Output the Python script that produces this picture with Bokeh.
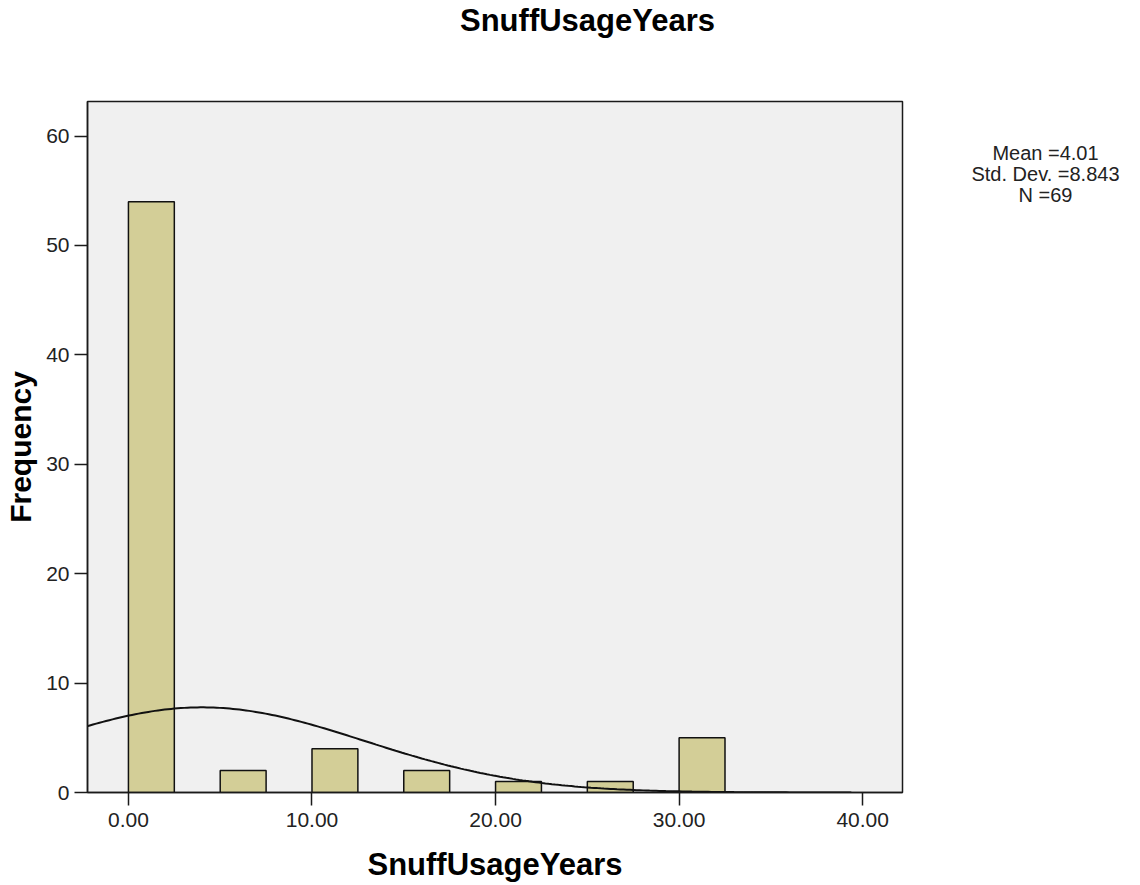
import numpy as np
from bokeh.plotting import figure
from bokeh.layouts import column, row
from bokeh.models import Range1d, FixedTicker, NumeralTickFormatter, ColumnDataSource
from bokeh.core.properties import value
from bokeh.embed import file_html
from bokeh.resources import INLINE

# ---- data ----
bin_left = [0, 5, 10, 15, 20, 25, 30]
bin_width = 2.5
counts = [54, 2, 4, 2, 1, 1, 5]
mean = 4.01
std_dev = 8.843
n_total = 69
x_ticks = [0, 10, 20, 30, 40]
y_ticks = [0, 10, 20, 30, 40, 50, 60]
title_text = "SnuffUsageYears"
x_label = "SnuffUsageYears"
y_label = "Frequency"
stats_lines = ["Mean =4.01", "Std. Dev. =8.843", "N =69"]

# ---- layout constants (pixels) ----
W, H = 1140, 885
T = 95                      # title strip height
BL, BR, BT, BB = 87, 8, 6, 93
MW = 910                    # main figure width
MH = H - T                  # main figure height
SW = W - MW                 # stats strip width
X0, X1 = -2.23, 42.17
Y0, Y1 = 0, 63.16
FRAME_TOP = T + BT          # page y of frame top
FRAME_BOT = H - BB          # page y of frame bottom

FONT = "Liberation Sans"

# ---- title strip ----
pt = figure(width=W, height=T, x_range=Range1d(0, W), y_range=Range1d(T, 0),
            x_axis_type=None, y_axis_type=None, output_backend="svg",
            toolbar_location=None, min_border=0)
pt.outline_line_color = None
pt.xgrid.visible = False
pt.ygrid.visible = False
pt.text(x=[587], y=[20], text=[title_text], text_align="center", text_baseline="middle",
        text_font=value(FONT), text_font_size="31px", text_font_style="bold",
        text_color="#000000")

# ---- main histogram ----
p = figure(width=MW, height=MH, x_range=Range1d(X0, X1), y_range=Range1d(Y0, Y1),
           output_backend="svg", toolbar_location=None,
           min_border_left=BL, min_border_right=BR, min_border_top=BT, min_border_bottom=BB)

p.background_fill_color = "#f0f0f0"
p.border_fill_color = "white"
p.outline_line_color = "#1a1a1a"
p.outline_line_width = 1.5
p.xgrid.visible = False
p.ygrid.visible = False

src = ColumnDataSource(dict(left=bin_left,
                            right=[b + bin_width for b in bin_left],
                            top=counts, bottom=[0] * len(counts)))
p.quad(left="left", right="right", top="top", bottom="bottom", source=src,
       fill_color="#d3ce97", line_color="#111111", line_width=1.5)

xs = np.linspace(mean - 4 * std_dev, mean + 4 * std_dev, 400)
ys = n_total * bin_width / (std_dev * np.sqrt(2 * np.pi)) * np.exp(-0.5 * ((xs - mean) / std_dev) ** 2)
p.line(xs, ys, line_color="#111111", line_width=2)

for ax in (p.xaxis[0], p.yaxis[0]):
    ax.axis_line_color = "#1a1a1a"
    ax.axis_line_width = 1.5
    ax.major_tick_line_color = "#1a1a1a"
    ax.major_tick_line_width = 1.5
    ax.major_tick_out = 13
    ax.major_tick_in = 0
    ax.minor_tick_line_color = None
    ax.major_label_text_font = FONT
    ax.major_label_text_font_size = "21px"
    ax.major_label_text_color = "#222222"
    ax.axis_label_text_font = FONT
    ax.axis_label_text_font_style = "bold"
    ax.axis_label_text_color = "#000000"

p.xaxis.ticker = FixedTicker(ticks=x_ticks)
p.xaxis.formatter = NumeralTickFormatter(format="0.00")
p.xaxis.axis_label = x_label
p.xaxis.axis_label_text_font_size = "31px"
p.xaxis.major_label_standoff = 7
p.xaxis.axis_label_standoff = 17

p.yaxis.ticker = FixedTicker(ticks=y_ticks)
p.yaxis.axis_label = y_label
p.yaxis.axis_label_text_font_size = "30px"
p.yaxis.major_label_standoff = 5
p.yaxis.axis_label_standoff = 6

# ---- stats strip (its frame is aligned with the main frame; y in page pixels) ----
ps = figure(width=SW, height=MH, x_range=Range1d(0, SW), y_range=Range1d(FRAME_BOT, FRAME_TOP),
            x_axis_type=None, y_axis_type=None, output_backend="svg",
            toolbar_location=None, min_border_left=0, min_border_right=0,
            min_border_top=BT, min_border_bottom=BB)
ps.outline_line_color = None
ps.xgrid.visible = False
ps.ygrid.visible = False
ps.text(x=[135] * len(stats_lines), y=[152 + 21 * i for i in range(len(stats_lines))],
        text=stats_lines, text_align="center", text_baseline="middle",
        text_font=value(FONT), text_font_size="20px", text_color="#222222")

layout = column(pt, row(p, ps))
open("out.html", "w").write(file_html(layout, INLINE))
